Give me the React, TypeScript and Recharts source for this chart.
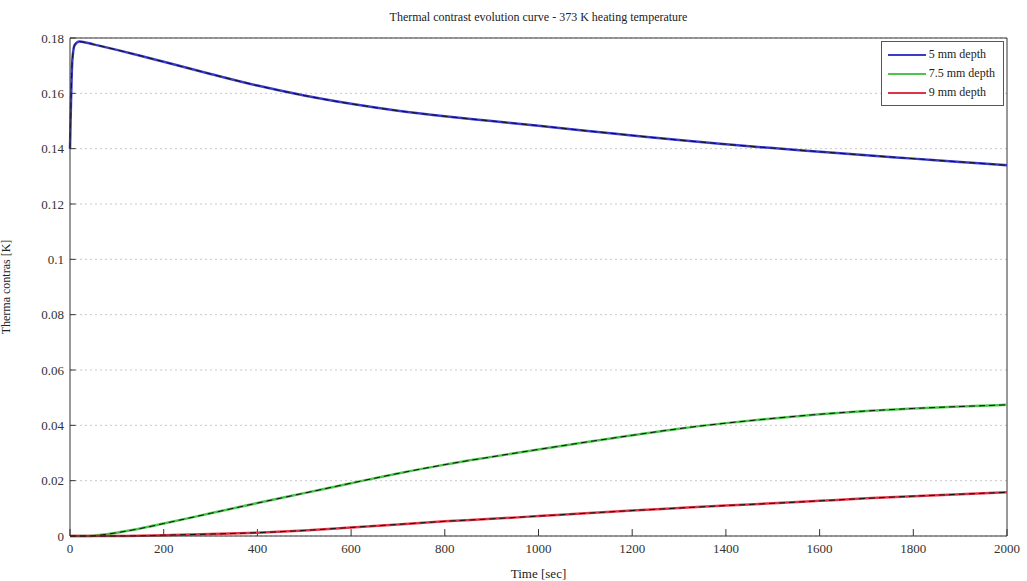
import { LineChart, Line, XAxis, YAxis, CartesianGrid, ReferenceLine } from "recharts";

const times = [0, 5, 10, 20, 30, 50, 100, 150, 200, 300, 400, 500, 600, 700, 800, 900, 1000, 1100, 1200, 1300, 1400, 1500, 1600, 1700, 1800, 1900, 2000];
const depth5 = [0.14, 0.172, 0.1775, 0.1787, 0.1785, 0.1777, 0.1757, 0.1736, 0.1714, 0.167, 0.1628, 0.1592, 0.1562, 0.1537, 0.1517, 0.15, 0.1483, 0.1465, 0.1448, 0.1431, 0.1416, 0.1402, 0.1389, 0.1376, 0.1364, 0.1352, 0.134];
const depth75 = [0, 0, 0, 0, 0, 0.0001, 0.0012, 0.0027, 0.0045, 0.0082, 0.0119, 0.0155, 0.0191, 0.0226, 0.0258, 0.0286, 0.0313, 0.0339, 0.0364, 0.0388, 0.0408, 0.0425, 0.044, 0.0452, 0.0461, 0.0468, 0.0474];
const depth9 = [0, 0, 0, 0, 0, 0, 0, 0.0001, 0.0003, 0.0007, 0.0012, 0.002, 0.0031, 0.0042, 0.0053, 0.0062, 0.0072, 0.0082, 0.0092, 0.0101, 0.011, 0.0118, 0.0127, 0.0136, 0.0144, 0.0151, 0.0158];

const xTicks = [0, 200, 400, 600, 800, 1000, 1200, 1400, 1600, 1800, 2000];
const yTicks = [0, 0.02, 0.04, 0.06, 0.08, 0.1, 0.12, 0.14, 0.16, 0.18];

const seriesNames = ["5 mm depth", "7.5 mm depth", "9 mm depth"];
const seriesColors = ["#3a3acc", "#4cc44c", "#dd3344"];

const data = times.map((t, i) => ({ t, d5: depth5[i], d75: depth75[i], d9: depth9[i] }));

const FONT = "'Liberation Serif', 'Times New Roman', serif";

function LegendBox() {
  return (
    <div
      style={{
        position: "absolute",
        top: 41,
        right: 23,
        border: "1px solid #555",
        background: "#fff",
        padding: "3px 8px 3px 6px",
        fontFamily: FONT,
        fontSize: 12,
        color: "#222",
        lineHeight: "19px",
      }}
    >
      {seriesNames.map((n, i) => (
        <div key={n} style={{ display: "flex", alignItems: "center" }}>
          <span style={{ display: "inline-block", width: 38, height: 2, background: seriesColors[i], marginRight: 3 }} />
          {n}
        </div>
      ))}
    </div>
  );
}

export default function App() {
  const keys = ["d5", "d75", "d9"];
  return (
    <div style={{ position: "absolute", left: 0, top: 0, width: 1027, height: 581, background: "#fff" }}>
      <div
        style={{
          position: "absolute",
          top: 10,
          left: 70,
          width: 937,
          textAlign: "center",
          fontFamily: FONT,
          fontSize: 12,
          color: "#222",
        }}
      >
        Thermal contrast evolution curve - 373 K heating temperature
      </div>
      <LineChart width={1027} height={581} data={data} margin={{ top: 38, right: 20, bottom: 15, left: 28 }}>
        <CartesianGrid horizontal vertical={false} stroke="#c8c8c8" strokeDasharray="2 3" />
        <XAxis
          dataKey="t"
          type="number"
          domain={[0, 2000]}
          ticks={xTicks}
          height={30}
          stroke="#333"
          tickSize={0}
          tickMargin={8}
          tick={{ fontFamily: FONT, fontSize: 13, fill: "#333" }}
          label={{ value: "Time [sec]", position: "insideBottom", offset: -12, fontFamily: FONT, fontSize: 13, fill: "#222" }}
        />
        <YAxis
          type="number"
          domain={[0, 0.18]}
          ticks={yTicks}
          width={42}
          stroke="#333"
          tickSize={0}
          tickMargin={6}
          tickFormatter={(v: number) => String(Number(v.toFixed(2)))}
          tick={{ fontFamily: FONT, fontSize: 13, fill: "#333" }}
          label={{ value: "Therma contras [K]", angle: -90, position: "insideLeft", offset: -22, fontFamily: FONT, fontSize: 12, fill: "#222", style: { textAnchor: "middle" } }}
        />
        <ReferenceLine y={0.18} stroke="#333" />
        <ReferenceLine x={2000} stroke="#333" />
        {xTicks.map((x) => (
          <ReferenceLine key={"xt" + x} segment={[{ x, y: 0 }, { x, y: 0.0025 }]} stroke="#333" />
        ))}
        {yTicks.map((y) => (
          <ReferenceLine key={"yt" + y} segment={[{ x: 0, y }, { x: 12, y }]} stroke="#333" />
        ))}
        {keys.map((k, i) => (
          <Line
            key={k}
            type="monotone"
            dataKey={k}
            name={seriesNames[i]}
            stroke={seriesColors[i]}
            strokeWidth={2.5}
            dot={false}
            isAnimationActive={false}
          />
        ))}
        {keys.map((k) => (
          <Line
            key={k + "o"}
            type="monotone"
            dataKey={k}
            stroke="#111"
            strokeWidth={1}
            strokeDasharray="6 4"
            dot={false}
            legendType="none"
            isAnimationActive={false}
          />
        ))}
      </LineChart>
      <LegendBox />
    </div>
  );
}
